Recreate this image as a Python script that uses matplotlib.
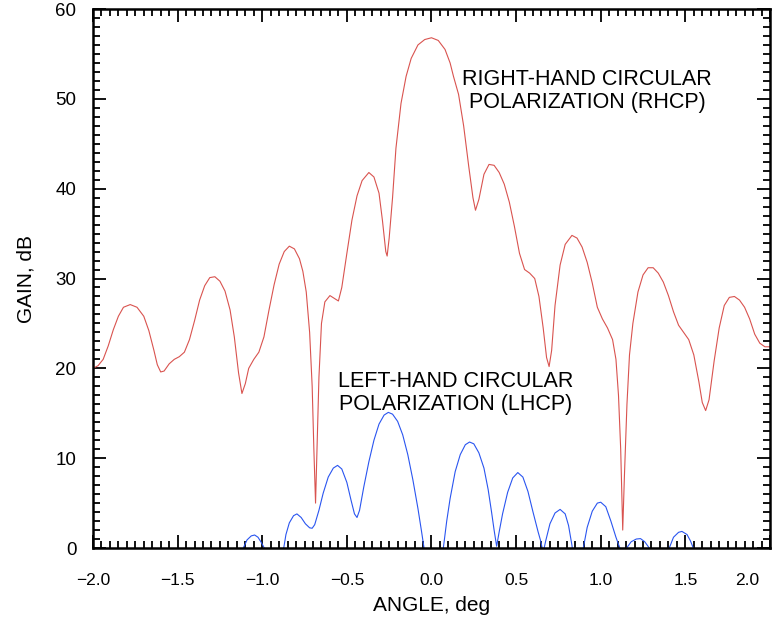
import matplotlib.pyplot as plt
from matplotlib.ticker import MultipleLocator, FuncFormatter

plt.rcParams['font.family'] = ['Liberation Sans', 'DejaVu Sans']

# RHCP 곡선
rhcp_x = [-2.00, -1.97, -1.94, -1.91, -1.88, -1.85, -1.82, -1.78, -1.74, -1.70,
          -1.67, -1.64, -1.62, -1.60, -1.58, -1.55, -1.52, -1.49, -1.46, -1.43,
          -1.40, -1.37, -1.34, -1.31, -1.28, -1.25, -1.22, -1.19, -1.165, -1.14,
          -1.12, -1.10, -1.08, -1.05, -1.02, -0.99, -0.96, -0.93, -0.90, -0.87,
          -0.84, -0.81, -0.78, -0.76, -0.74, -0.72, -0.705, -0.695, -0.685, -0.675,
          -0.665, -0.65, -0.63, -0.60, -0.575, -0.55, -0.53, -0.50, -0.47, -0.44,
          -0.41, -0.37, -0.34, -0.31, -0.29, -0.27, -0.262, -0.25, -0.23, -0.21,
          -0.18, -0.15, -0.12, -0.08, -0.04, 0.00, 0.04, 0.08, 0.11, 0.13,
          0.16, 0.19, 0.22, 0.245, 0.26, 0.28, 0.31, 0.34, 0.37, 0.40,
          0.43, 0.46, 0.49, 0.52, 0.55, 0.58, 0.61, 0.635, 0.66, 0.68,
          0.695, 0.71, 0.73, 0.76, 0.79, 0.83, 0.86, 0.89, 0.92, 0.95,
          0.98, 1.01, 1.04, 1.07, 1.09, 1.105, 1.118, 1.13, 1.14, 1.155,
          1.17, 1.19, 1.22, 1.25, 1.28, 1.31, 1.34, 1.37, 1.40, 1.43,
          1.46, 1.49, 1.52, 1.55, 1.58, 1.60, 1.62, 1.64, 1.67, 1.70,
          1.73, 1.76, 1.79, 1.82, 1.85, 1.88, 1.91, 1.94, 1.97, 2.00]
rhcp_y = [20.0, 20.3, 21.0, 22.5, 24.3, 25.8, 26.8, 27.1, 26.8, 25.8,
          24.2, 22.0, 20.4, 19.6, 19.7, 20.5, 21.0, 21.3, 21.8, 23.2,
          25.3, 27.6, 29.2, 30.1, 30.2, 29.7, 28.6, 26.5, 23.5, 19.5,
          17.2, 18.3, 20.0, 21.0, 21.8, 23.5, 26.5, 29.3, 31.6, 33.0,
          33.6, 33.3, 32.2, 30.8, 28.5, 24.0, 18.0, 11.0, 5.0, 12.0,
          19.0, 25.0, 27.4, 28.1, 27.8, 27.5, 29.0, 32.8, 36.5, 39.2,
          40.9, 41.8, 41.3, 39.5, 36.5, 33.0, 32.5, 34.5, 39.0, 44.5,
          49.5, 52.5, 54.5, 56.0, 56.6, 56.8, 56.5, 55.5, 54.0, 52.5,
          50.5, 47.0, 42.5, 39.0, 37.6, 38.8, 41.6, 42.7, 42.6, 41.8,
          40.5, 38.5, 35.8, 32.8, 31.0, 30.6, 30.0, 28.0, 24.5, 21.2,
          20.2, 22.0, 27.0, 31.5, 33.8, 34.8, 34.5, 33.5, 31.8, 29.5,
          26.8, 25.5, 24.5, 23.2, 21.0, 17.0, 11.0, 2.0, 8.0, 16.0,
          21.5, 25.0, 28.5, 30.4, 31.2, 31.2, 30.6, 29.6, 28.1, 26.3,
          24.8, 24.0, 23.2, 21.5, 18.5, 16.2, 15.3, 16.5, 20.8, 24.5,
          27.0, 27.9, 28.0, 27.6, 26.8, 25.5, 23.8, 22.8, 22.4, 22.4]

# LHCP 곡선 (0 아래로 내려가는 부분은 축에서 잘림)
lhcp_x = [-1.13, -1.112, -1.09, -1.065, -1.045, -1.025, -1.005, -0.988, -0.97,
          -0.89, -0.873, -0.86, -0.84, -0.815, -0.795, -0.77, -0.745, -0.72, -0.705,
          -0.69, -0.665, -0.64, -0.61, -0.58, -0.555, -0.53, -0.50, -0.475, -0.455,
          -0.44, -0.425, -0.40, -0.37, -0.34, -0.31, -0.28, -0.255, -0.23, -0.20,
          -0.17, -0.14, -0.11, -0.08, -0.06, -0.044, -0.03,
          0.055, 0.07, 0.09, 0.11, 0.14, 0.17, 0.20, 0.225, 0.25, 0.28,
          0.31, 0.335, 0.355, 0.37, 0.385, 0.40, 0.42, 0.45, 0.48, 0.51,
          0.54, 0.57, 0.60, 0.63, 0.645, 0.66, 0.675, 0.70, 0.73, 0.76,
          0.79, 0.81, 0.83, 0.845,
          0.88, 0.897, 0.92, 0.95, 0.98, 1.00, 1.03, 1.06, 1.09, 1.113, 1.13,
          1.14, 1.153, 1.18, 1.21, 1.235, 1.26, 1.287, 1.30,
          1.39, 1.405, 1.43, 1.46, 1.48, 1.51, 1.53, 1.547, 1.56]
lhcp_y = [-2.0, 0.0, 0.9, 1.35, 1.45, 1.2, 0.6, 0.0, -2.0,
          -2.0, 0.0, 1.5, 2.8, 3.6, 3.8, 3.4, 2.7, 2.25, 2.2,
          2.6, 4.2, 6.1, 7.9, 8.9, 9.2, 8.8, 7.3, 5.3, 3.8,
          3.4, 4.2, 6.8, 9.6, 12.0, 13.8, 14.8, 15.1, 14.9, 14.1,
          12.6, 10.4, 7.6, 4.4, 2.0, 0.0, -2.0,
          -2.0, 0.0, 3.0, 5.5, 8.5, 10.4, 11.5, 11.8, 11.6, 10.6,
          8.9, 6.5, 4.0, 2.0, 0.2, 1.8, 3.8, 6.2, 7.8, 8.4,
          7.9, 6.3, 4.0, 1.8, 0.8, -0.5, 0.8, 2.7, 3.9, 4.3,
          3.8, 2.5, 0.3, -2.0,
          -2.0, 0.0, 2.3, 4.1, 5.0, 5.1, 4.6, 3.0, 1.2, 0.0, -2.0,
          -2.0, 0.0, 0.7, 1.0, 1.05, 0.7, 0.0, -2.0,
          -2.0, 0.0, 1.2, 1.75, 1.85, 1.5, 0.8, 0.0, -2.0]

fig = plt.figure(figsize=(7.75, 6.34), dpi=100)
ax = fig.add_axes([0.12, 0.1356, 0.8735, 0.8502])

ax.plot(rhcp_x, rhcp_y, color='#d9534f', linewidth=0.8)
ax.plot(lhcp_x, lhcp_y, color='#2a55f0', linewidth=0.8)

ax.set_xlim(-2.0, 2.0)
ax.set_ylim(0, 60)
ax.xaxis.set_major_locator(MultipleLocator(0.5))
ax.xaxis.set_minor_locator(MultipleLocator(0.05))
ax.yaxis.set_major_locator(MultipleLocator(10))
ax.yaxis.set_minor_locator(MultipleLocator(1))


def xfmt(v, p):
    # 오른쪽 끝 2.0은 따로 그린다
    if v > 1.99:
        return ''
    return ('%.1f' % v).replace('-', '\u2212')


ax.xaxis.set_major_formatter(FuncFormatter(xfmt))

ax.tick_params(which='both', direction='in', top=True, right=True, width=1.3,
               colors='black')
ax.tick_params(which='major', length=9.5)
ax.tick_params(which='minor', length=5)
ax.tick_params(axis='x', which='major', pad=18, labelsize=12.5)
ax.tick_params(axis='y', which='major', pad=12, labelsize=13.5)
for s in ax.spines.values():
    s.set_linewidth(1.8)

ax.annotate('2.0', xy=(2.0, 0), xycoords='data', xytext=(-16.5, -23.5),
            textcoords='offset points', ha='center', va='center', fontsize=12.5,
            annotation_clip=False)

ax.set_xlabel('ANGLE, deg', fontsize=15, labelpad=6)
ax.set_ylabel('GAIN, dB', fontsize=15, labelpad=14)

ax.text(0.92, 50.9, 'RIGHT-HAND CIRCULAR\nPOLARIZATION (RHCP)', fontsize=15.5,
        ha='center', va='center', linespacing=1.15)
ax.text(0.145, 17.25, 'LEFT-HAND CIRCULAR\nPOLARIZATION (LHCP)', fontsize=15.5,
        ha='center', va='center', linespacing=1.15)

fig.savefig('out.png', dpi=100)
